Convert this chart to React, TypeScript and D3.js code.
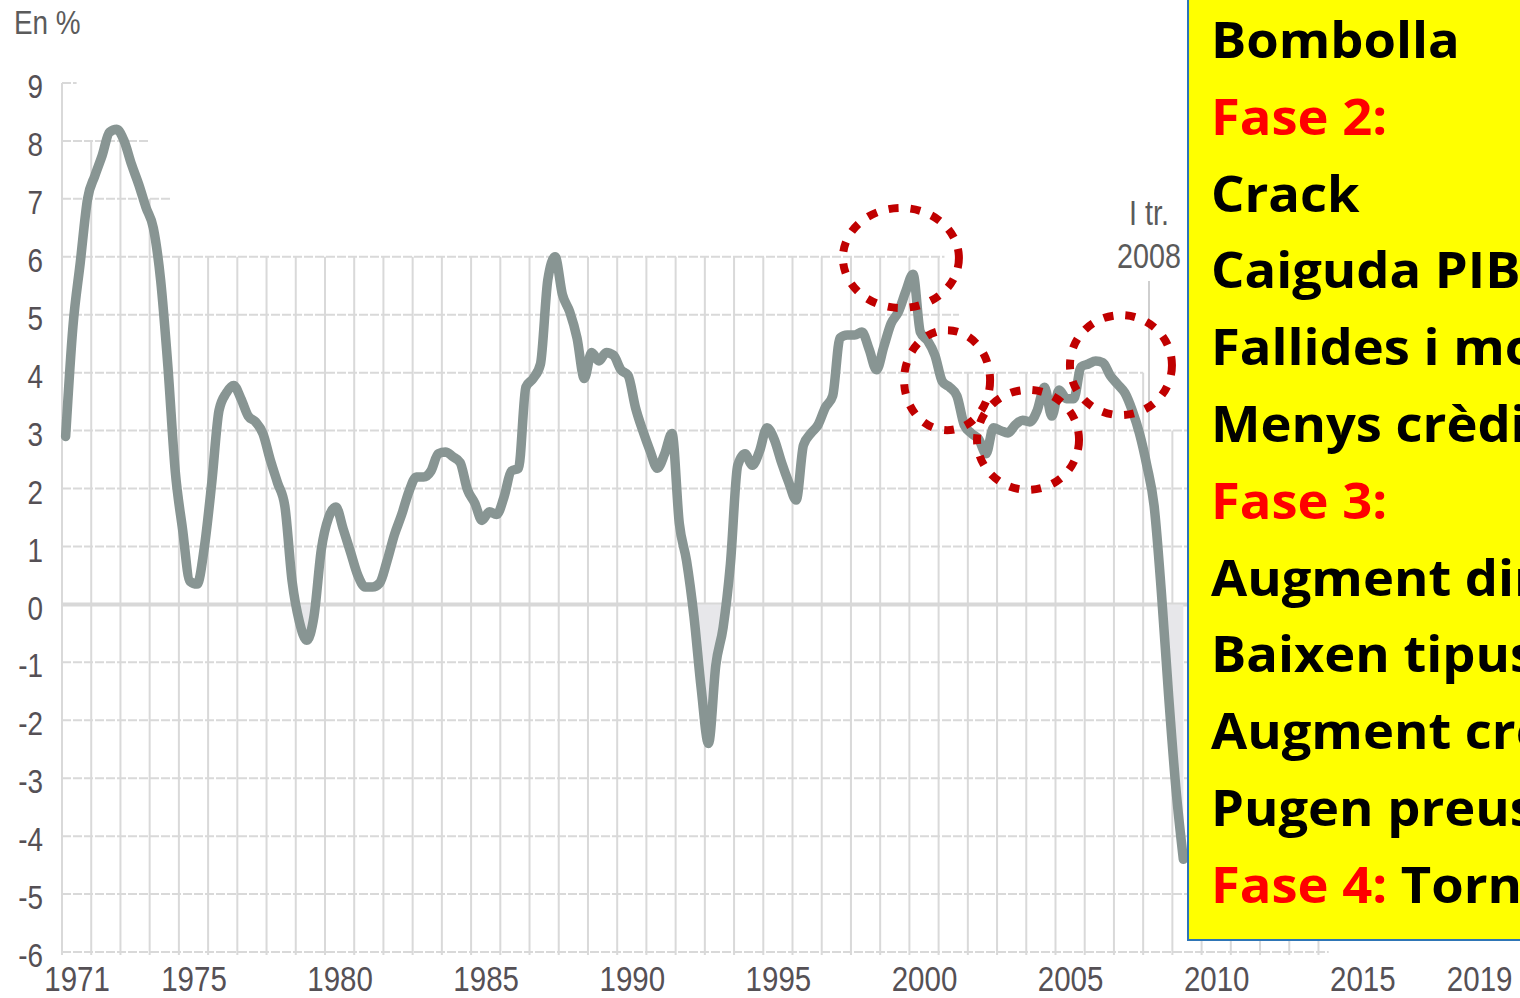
import React, { useEffect, useRef } from 'react';
import * as d3 from 'd3';

const width = 1520;
const height = 998;

// Creixement interanual del PIB, trimestral des de 1971 (I tr.)
const firstYear = 1971;
const gdpGrowth = [
  2.9, 4.8, 5.9, 7.0, // 1971
  7.4, 7.75, 8.15, 8.2, // 1972
  8.0, 7.6, 7.25, 6.85, // 1973
  6.5, 5.6, 4.1, 2.3, // 1974
  1.3, 0.4, 0.35, 1.0, // 1975
  2.1, 3.35, 3.65, 3.78, // 1976
  3.55, 3.25, 3.15, 2.95, // 1977
  2.5, 2.1, 1.7, 0.4, // 1978
  -0.3, -0.62, -0.2, 0.95, // 1979
  1.5, 1.68, 1.3, 0.9, // 1980
  0.5, 0.3, 0.3, 0.37, // 1981
  0.75, 1.2, 1.55, 1.95, // 1982
  2.2, 2.2, 2.3, 2.6, // 1983
  2.63, 2.55, 2.45, 1.98, // 1984
  1.75, 1.45, 1.6, 1.55, // 1985
  1.85, 2.3, 2.35, 3.75, // 1986
  3.9, 4.15, 5.6, 6.0, // 1987
  5.35, 5.05, 4.6, 3.9, // 1988
  4.35, 4.2, 4.35, 4.3, // 1989
  4.05, 3.95, 3.4, 3.0, // 1990
  2.65, 2.35, 2.6, 2.95, // 1991
  1.4, 0.75, -0.2, -1.45, // 1992
  -2.4, -1.05, -0.4, 0.7, // 1993
  2.4, 2.6, 2.4, 2.65, // 1994
  3.05, 2.85, 2.45, 2.1, // 1995
  1.8, 2.75, 2.95, 3.1, // 1996
  3.4, 3.6, 4.6, 4.65, // 1997
  4.65, 4.7, 4.4, 4.05, // 1998
  4.45, 4.85, 5.05, 5.4, // 1999
  5.7, 4.7, 4.55, 4.3, // 2000
  3.85, 3.75, 3.6, 3.1, // 2001
  2.95, 2.85, 2.6, 3.05, // 2002
  3.0, 2.96, 3.1, 3.18, // 2003
  3.15, 3.35, 3.75, 3.25, // 2004
  3.7, 3.55, 3.55, 4.1, // 2005
  4.15, 4.2, 4.17, 3.95, // 2006
  3.8, 3.65, 3.35, 2.95, // 2007
  2.4, 1.7, 0.2, -1.6, // 2008
  -3.2, -4.4, // 2009
];

const yTicks = [9, 8, 7, 6, 5, 4, 3, 2, 1, 0, -1, -2, -3, -4, -5, -6];
const yearLabels = [1971, 1975, 1980, 1985, 1990, 1995, 2000, 2005, 2010, 2015, 2019];

// cercles vermells (centre en any / %)
const ringYears = [1999.71, 2001.29, 2004.06, 2007.24];
const ringValues = [5.98, 3.87, 2.84, 4.13];
const ringRx = [58, 43, 51, 51];
const ringRy = [50, 50, 50, 50];

const markerYear = 2008.2;
const markerLabel = ['I tr.', '2008'];

const boxRed = ['', 'Fase 2:', '', '', '', '', 'Fase 3:', '', '', '', '', 'Fase 4: '];
const boxBlack = [
  'Bombolla',
  '',
  'Crack',
  'Caiguda PIB',
  'Fallides i morositat',
  'Menys crèdit',
  '',
  'Augment diner',
  'Baixen tipus',
  'Augment crèdit',
  'Pugen preus',
  'Torna a començar',
];

const axisFont = '"Liberation Sans", Arial, sans-serif';
const narrow = 'scale(0.82,1)';
const labelColor = '#555055';
const lineColor = '#889593';
const gridColor = '#d9d9d9';

const x = d3.scaleLinear().domain([1971, 2020]).range([62, 1493.8]);
const y = d3.scaleLinear().domain([-6, 9]).range([952, 83]);

// the source image hides parts of the grid behind white boxes
const hGridEnd = (v: number) =>
  v === 9 ? 1971.5 : v === 8 ? 1974.0 : v === 7 ? 1974.75 : v === 6 ? 2001.2 : v === 5 ? 2001.7 : v === 4 ? 2008.0 : 2014.35;
const vGridTop = (yr: number) =>
  yr === 1971 ? 9 : yr <= 1973 ? 8 : yr === 1974 ? 7 : yr <= 2001 ? 6 : yr <= 2008 ? 4 : 3;

export default function App() {
  const yAxisRef = useRef<SVGGElement>(null);
  const xAxisRef = useRef<SVGGElement>(null);

  const points = gdpGrowth.map((v, i) => ({ t: firstYear + (i + 0.5) / 4, v }));

  const line = d3
    .line<{ t: number; v: number }>()
    .x((d) => x(d.t))
    .y((d) => y(d.v))
    .curve(d3.curveMonotoneX);

  const below = d3
    .area<{ t: number; v: number }>()
    .x((d) => x(d.t))
    .y0(y(0))
    .y1((d) => y(Math.min(d.v, 0)))
    .curve(d3.curveMonotoneX);

  const gridYears = d3.range(1971, 2015);

  useEffect(() => {
    const yAxis = d3
      .axisLeft(y)
      .tickValues(yTicks)
      .tickSize(0)
      .tickPadding(0)
      .tickFormat((d) => String(d));
    const gy = d3.select(yAxisRef.current!).call(yAxis);
    gy.select('.domain').remove();
    gy.selectAll('text')
      .attr('font-family', axisFont)
      .attr('font-size', 34)
      .attr('fill', labelColor)
      .attr('dy', '0.43em')
      .attr('transform', narrow);

    const xAxis = d3
      .axisBottom(x)
      .tickValues(yearLabels.map((yr) => yr + 0.5))
      .tickSize(0)
      .tickPadding(0)
      .tickFormat((d) => String(Math.floor(+d)));
    const gx = d3.select(xAxisRef.current!).call(xAxis);
    gx.select('.domain').remove();
    gx.selectAll('text')
      .attr('font-family', axisFont)
      .attr('font-size', 36)
      .attr('fill', labelColor)
      .attr('transform', narrow);
  }, []);

  return (
    <svg
      width={width}
      height={height}
      style={{ position: 'absolute', left: 0, top: 0, display: 'block', background: '#fff' }}
    >
      {/* vertical grid */}
      {gridYears.map((yr) => (
        <line
          key={'v' + yr}
          x1={x(yr)}
          x2={x(yr)}
          y1={y(vGridTop(yr))}
          y2={y(-6) + 3}
          stroke={gridColor}
          strokeWidth={2}
        />
      ))}
      {/* horizontal grid */}
      {yTicks
        .filter((v) => v !== 0)
        .map((v) => (
          <line
            key={'h' + v}
            x1={x(1971)}
            x2={x(hGridEnd(v))}
            y1={y(v)}
            y2={y(v)}
            stroke={gridColor}
            strokeWidth={2}
            strokeDasharray="9 2"
          />
        ))}
      <line x1={x(1971)} x2={x(2014.35)} y1={y(0)} y2={y(0)} stroke="#d8d8d8" strokeWidth={4} />

      <path d={below(points) ?? ''} fill="#e7e7ea" />

      <line
        x1={x(markerYear)}
        x2={x(markerYear)}
        y1={281}
        y2={y(2.5)}
        stroke="#cfcfcf"
        strokeWidth={2}
      />
      {markerLabel.map((txt, i) => (
        <text
          key={'m' + i}
          transform={`translate(${x(markerYear)},${225 + i * 43}) ${narrow}`}
          textAnchor="middle"
          fontFamily={axisFont}
          fontSize={35}
          fill="#5a5a5a"
        >
          {txt}
        </text>
      ))}

      <path
        d={line(points) ?? ''}
        fill="none"
        stroke={lineColor}
        strokeWidth={9.5}
        strokeLinejoin="round"
        strokeLinecap="round"
      />

      {ringYears.map((yr, i) => (
        <ellipse
          key={'r' + i}
          cx={x(yr)}
          cy={y(ringValues[i])}
          rx={ringRx[i]}
          ry={ringRy[i]}
          fill="none"
          stroke="#c00000"
          strokeWidth={8}
          strokeDasharray="10 12"
        />
      ))}

      <g ref={yAxisRef} transform="translate(43,0)" />
      <g ref={xAxisRef} transform="translate(0,965)" />

      <text
        transform={`translate(14,34) ${narrow}`}
        fontFamily={axisFont}
        fontSize={34}
        fill="#5b5b5b"
      >
        En %
      </text>

      {/* yellow text box */}
      <rect x={1188} y={-4} width={360} height={944} fill="#ffff00" stroke="#2e75b6" strokeWidth={2} />
      {boxBlack.map((txt, i) => (
        <text
          key={'b' + i}
          transform={`translate(1211,${58 + i * 76.8}) scale(1.05,1)`}
          fontFamily='"Open Sans", "Noto Sans", sans-serif'
          fontWeight={700}
          fontSize={50}
          fill="#000"
        >
          {boxRed[i] && <tspan fill="#ff0000">{boxRed[i]}</tspan>}
          {txt && <tspan>{txt}</tspan>}
        </text>
      ))}
    </svg>
  );
}
